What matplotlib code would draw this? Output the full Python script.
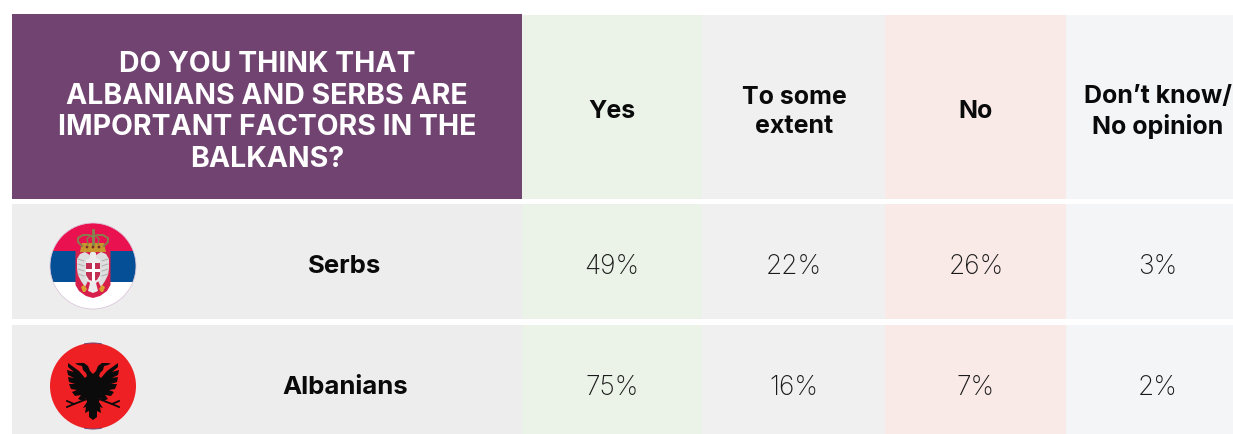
import matplotlib
matplotlib.use("Agg")
import matplotlib.pyplot as plt
from matplotlib.patches import Arc, Circle, Polygon, Rectangle

plt.rcParams["font.family"] = ["Inter", "DejaVu Sans"]

# ======================================
# Table content
# ======================================

question = "DO YOU THINK THAT\nALBANIANS AND SERBS ARE\nIMPORTANT FACTORS IN THE\nBALKANS?"
answers = ["Yes", "To some\nextent", "No", "Don\u2019t know/\nNo opinion"]
groups = ["Serbs", "Albanians"]
serbs = [49, 22, 26, 3]
albanians = [75, 16, 7, 2]

# ======================================
# Layout, in pixels
# ======================================

col_edges = [522, 702, 885, 1066, 1233]
col_centers = [612, 794, 976, 1158]
col_colors = ["#ebf3e8", "#f0f0f1", "#f9eae7", "#f4f5f7"]
row_tops = [204, 325]
row_bottoms = [319, 436]
row_text_y = [266, 387]
flag_y = [266, 386]
flag_x = 93
flag_r = 43

fig = plt.figure(figsize=(12.33, 4.35), dpi=100)
ax = fig.add_axes([0, 0, 1, 1])
ax.set_xlim(0, 1233)
ax.set_ylim(434, -1)
ax.axis("off")

# ======================================
# Header
# ======================================

ax.add_patch(Rectangle((12, 14), 510, 185, color="#704370", lw=0))
ax.text(267, 111, question, color="white", fontsize=20.5, fontweight="bold",
        ha="center", va="center", linespacing=1.22)

for i, answer in enumerate(answers):
    ax.add_patch(Rectangle((col_edges[i], 15), col_edges[i + 1] - col_edges[i], 184,
                           color=col_colors[i], lw=0))
    ax.text(col_centers[i], 111, answer, color="#0a0a0a", fontsize=18,
            fontweight="bold", ha="center", va="center", linespacing=1.32)

# ======================================
# Rows
# ======================================

rows = [serbs, albanians]

for r, group in enumerate(groups):
    top = row_tops[r]
    height = row_bottoms[r] - top
    ax.add_patch(Rectangle((12, top), 510, height, color="#ededed", lw=0))
    ax.text(345, row_text_y[r], group, color="#0a0a0a", fontsize=18.5,
            fontweight="bold", ha="center", va="center")
    for i, value in enumerate(rows[r]):
        ax.add_patch(Rectangle((col_edges[i], top), col_edges[i + 1] - col_edges[i], height,
                               color=col_colors[i], lw=0))
        ax.text(col_centers[i], row_text_y[r], f"{value}%", color="#1a1a1a", fontsize=19,
                fontweight="light", ha="center", va="center")


def shape(points, cx, cy, color, z):
    ax.add_patch(Polygon([(cx + x, cy + y) for x, y in points], closed=True,
                         fc=color, ec="none", zorder=z))


def mirrored(points):
    return points + [(-x, y) for x, y in reversed(points)]


# ======================================
# Serbian flag
# ======================================

cy = flag_y[0]
clip = Circle((flag_x, cy), flag_r, transform=ax.transData)
for y0, h, c in [(cy - 43, 28, "#e9114f"), (cy - 15, 31, "#044f95"), (cy + 16, 27, "#ffffff")]:
    band = Rectangle((flag_x - 43, y0), 86, h, color=c, lw=0, zorder=3)
    ax.add_patch(band)
    band.set_clip_path(clip)
ax.add_patch(Circle((flag_x, cy), flag_r, fill=False, ec="#dcc8dc", lw=0.6, zorder=4))

# shield and white eagle
shape(mirrored([(0, -15), (17.5, -15), (17.5, 19), (14, 25), (7, 30), (0, 32)]), flag_x, cy, "#d81e4b", 5)
for sign in (1, -1):
    wing = [(3, -11), (8, -14), (13, -12), (16, -7), (16, 3), (15, 9), (12, 15), (8, 21), (5, 15), (3, 4)]
    shape([(sign * x, y) for x, y in wing], flag_x, cy, "#dedede", 5)
    # wing feathers
    for y0 in (-5, 0, 5, 10):
        ax.plot([flag_x + sign * 9, flag_x + sign * 15], [cy + y0, cy + y0 - 2],
                color="#a8a8a8", lw=0.6, zorder=6)
    # fleur on either side of the tail
    shape([(sign * 9, 19), (sign * 12, 21), (sign * 10, 26), (sign * 8, 26), (sign * 6, 23)],
          flag_x, cy, "#d9a22e", 6)
shape(mirrored([(0, -15), (3, -13), (3, -8), (7, -6), (7, 14), (3, 17), (5, 25), (0, 27)]), flag_x, cy, "#ececec", 6)
shape(mirrored([(0, -3), (7, -3), (7, 9), (4, 14), (0, 15)]), flag_x, cy, "#c22f52", 7)
ax.add_patch(Rectangle((flag_x - 1.5, cy - 3), 3, 18, color="white", lw=0, zorder=8))
ax.add_patch(Rectangle((flag_x - 7, cy + 3), 14, 3, color="white", lw=0, zorder=8))

# crown
shape(mirrored([(0, -23), (11, -23), (13, -14), (0, -14)]), flag_x, cy, "#c7962c", 6)
for x0, y0 in [(-6, -19), (0, -19), (6, -19)]:
    ax.add_patch(Circle((flag_x + x0, cy + y0), 1.4, color="#7a2f2a", lw=0, zorder=7))
for sign in (1, -1):
    xs = [sign * 11, sign * 15, sign * 15, sign * 10, sign * 4, 0]
    ys = [-20, -24, -28, -31, -31, -29]
    ax.plot([flag_x + x for x in xs], [cy + y for y in ys], color="#8a7a4e", lw=1.5, zorder=6)
    ax.plot([flag_x + sign * 5, flag_x + sign * 6, flag_x + sign * 3],
            [cy - 22, cy - 27, cy - 30], color="#8a7a4e", lw=1.0, zorder=6)
ax.plot([flag_x, flag_x], [cy - 36, cy - 22], color="#7f8a50", lw=2.0, zorder=6)

# ======================================
# Albanian flag
# ======================================

cy = flag_y[1]
ax.add_patch(Circle((flag_x, cy), flag_r, color="#ee2024", lw=0, zorder=3))
ax.add_patch(Arc((flag_x, cy), 2 * flag_r, 2 * flag_r, theta1=258, theta2=282,
                 color="#704370", lw=0.7, zorder=4))
ax.add_patch(Arc((flag_x, cy), 2 * flag_r, 2 * flag_r, theta1=78, theta2=102,
                 color="#704370", lw=0.7, zorder=4))

half_eagle = [
    (0, -12), (3, -15), (5, -20), (9, -23), (14, -23), (18, -22.5), (15, -21), (11, -20),
    (10, -16), (7, -13), (6, -10), (8, -8), (14, -15), (25, -23), (25, -19), (19, -14),
    (26, -16), (25, -11), (19, -8), (25, -9), (24, -4), (18, -2), (24, -2), (22, 3),
    (16, 4), (21, 6), (18, 10), (12, 9), (15, 13), (10, 15), (7, 12), (6, 16),
    (10, 22), (7, 21), (8, 27), (4, 25), (4, 31), (0, 34),
]
shape(mirrored(half_eagle), flag_x, cy, "#0b0b0b", 4)

# legs
for sign in (1, -1):
    ax.plot([flag_x + sign * 6, flag_x + sign * 19, flag_x + sign * 26],
            [cy + 13, cy + 18, cy + 15], color="#0b0b0b", lw=1.3, zorder=4)
    ax.plot([flag_x + sign * 19, flag_x + sign * 26],
            [cy + 18, cy + 21], color="#0b0b0b", lw=1.3, zorder=4)

fig.savefig("out.png", dpi=100, facecolor="white")
